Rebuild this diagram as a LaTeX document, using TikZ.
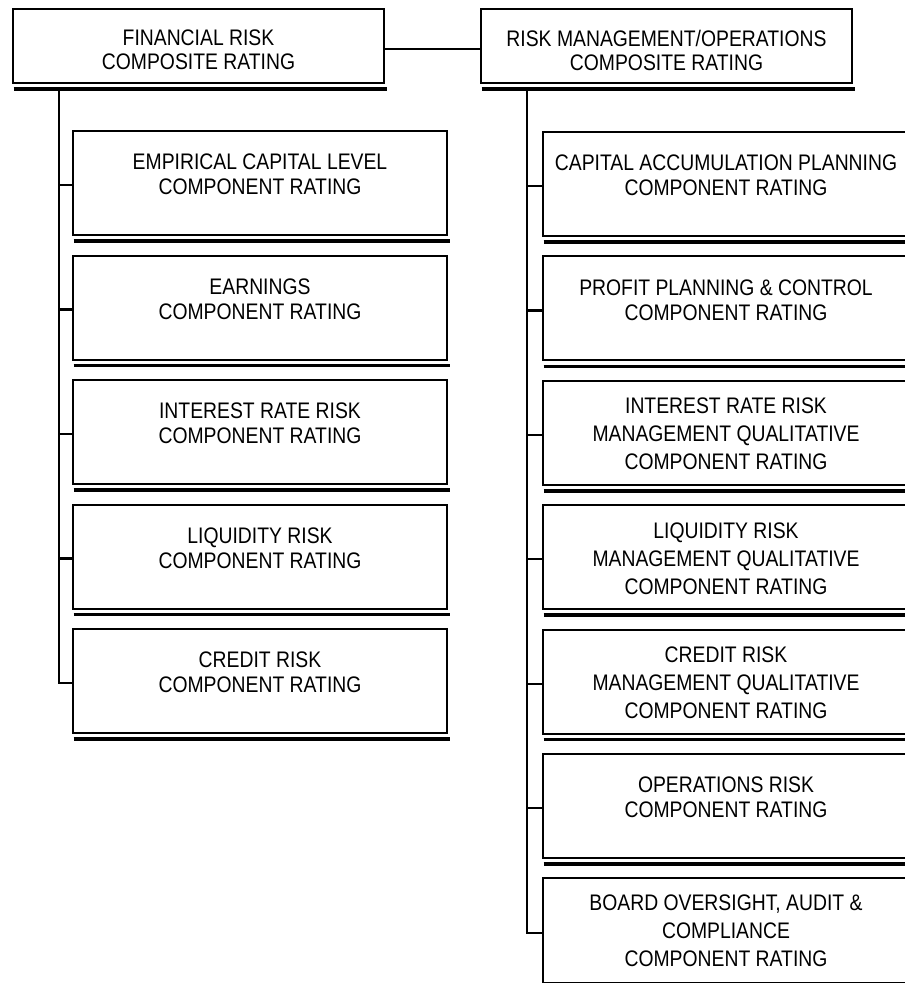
\documentclass[tikz,border=0pt]{standalone}
\usepackage{fontspec}
\setmainfont{Liberation Sans}[FakeStretch=0.86]
\begin{document}
\begin{tikzpicture}[x=1pt,y=-1pt,
  box/.style={draw, line width=2pt, rectangle, inner sep=0pt, anchor=north west, fill=white},
  topbox/.style={box, minimum width=371pt, minimum height=74pt},
  leftbox/.style={box, minimum width=374pt, minimum height=104pt},
  rightbox/.style={box, minimum width=366pt, minimum height=104pt},
  shade/.style={line width=3.6pt},
  link/.style={line width=2.2pt},
  lbl/.style={align=center, inner sep=0pt, anchor=north},
  twoline/.style={lbl, font=\fontsize{22.5pt}{25pt}\selectfont},
  threeline/.style={lbl, font=\fontsize{22.5pt}{28pt}\selectfont},
  headline/.style={lbl, font=\fontsize{22.5pt}{24pt}\selectfont}]
\clip (0,0) rectangle (905,983);
\fill[white] (0,0) rectangle (905,983);

% composite ratings
\node[topbox] (fin) at (12,8) {};
\node[topbox] (rmo) at (480,8) {};
\node[headline] (fint) at ([yshift=-22pt]fin.north) {FINANCIAL RISK\\COMPOSITE RATING};
\node[headline] (rmot) at ([yshift=-22pt]rmo.north) {RISK MANAGEMENT/OPERATIONS\\COMPOSITE RATING};

% financial risk components
\node[leftbox] (l1) at (72,130) {};
\node[leftbox] (l2) at (72,254.5) {};
\node[leftbox] (l3) at (72,379) {};
\node[leftbox] (l4) at (72,503.5) {};
\node[leftbox] (l5) at (72,628) {};
\node[twoline] (l1t) at ([yshift=-24pt]l1.north) {EMPIRICAL CAPITAL LEVEL\\COMPONENT RATING};
\node[twoline] (l2t) at ([yshift=-24pt]l2.north) {EARNINGS\\COMPONENT RATING};
\node[twoline] (l3t) at ([yshift=-24pt]l3.north) {INTEREST RATE RISK\\COMPONENT RATING};
\node[twoline] (l4t) at ([yshift=-24pt]l4.north) {LIQUIDITY RISK\\COMPONENT RATING};
\node[twoline] (l5t) at ([yshift=-24pt]l5.north) {CREDIT RISK\\COMPONENT RATING};

% risk management / operations components
\node[rightbox] (r1) at (542,131) {};
\node[rightbox] (r2) at (542,255.4) {};
\node[rightbox] (r3) at (542,379.8) {};
\node[rightbox] (r4) at (542,504.2) {};
\node[rightbox] (r5) at (542,628.6) {};
\node[rightbox] (r6) at (542,753) {};
\node[rightbox, minimum height=105pt] (r7) at (542,877.4) {};
\node[twoline] (r1t) at ([yshift=-24pt]r1.north) {CAPITAL ACCUMULATION PLANNING\\COMPONENT RATING};
\node[twoline] (r2t) at ([yshift=-24pt]r2.north) {PROFIT PLANNING \& CONTROL\\COMPONENT RATING};
\node[threeline] (r3t) at ([yshift=-18pt]r3.north) {INTEREST RATE RISK\\MANAGEMENT QUALITATIVE\\COMPONENT RATING};
\node[threeline] (r4t) at ([yshift=-18pt]r4.north) {LIQUIDITY RISK\\MANAGEMENT QUALITATIVE\\COMPONENT RATING};
\node[threeline] (r5t) at ([yshift=-18pt]r5.north) {CREDIT RISK\\MANAGEMENT QUALITATIVE\\COMPONENT RATING};
\node[twoline] (r6t) at ([yshift=-24pt]r6.north) {OPERATIONS RISK\\COMPONENT RATING};
\node[threeline] (r7t) at ([yshift=-17pt]r7.north) {BOARD OVERSIGHT, AUDIT \&\\COMPLIANCE\\COMPONENT RATING};

% heavy under-rules beneath each box
\foreach \b in {fin,rmo,l1,l2,l3,l4,l5,r1,r2,r3,r4,r5,r6,r7}
  \draw[shade] ([xshift=1.5pt,yshift=-5pt]\b.south west) -- ([xshift=2pt,yshift=-5pt]\b.south east);

% connectors
\draw[link] ([yshift=-3pt]fin.east) -- ([yshift=-3pt]rmo.west);
\coordinate (ftop) at (59,89);
\coordinate (rtop) at (527,89);
\foreach \b in {l1,l2,l3,l4,l5}
  \draw[link] (ftop) |- ([yshift=-2pt]\b.west);
\foreach \b in {r1,r2,r3,r4,r5,r6,r7}
  \draw[link] (rtop) |- ([yshift=-2pt]\b.west);
\end{tikzpicture}
\end{document}
